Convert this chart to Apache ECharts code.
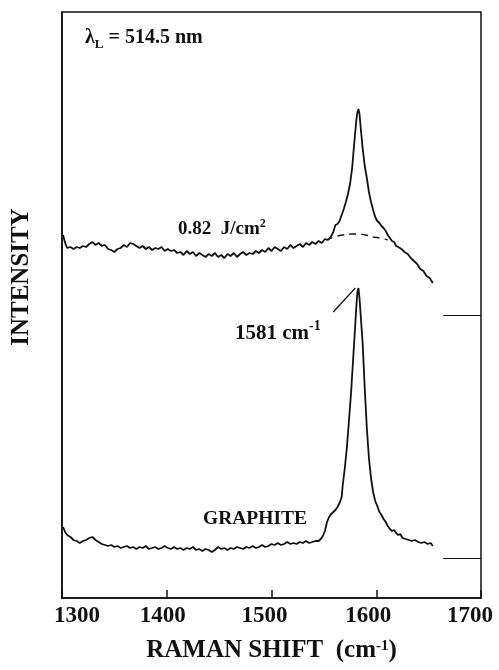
<!DOCTYPE html>
<html>
<head>
<meta charset="utf-8">
<script src="https://cdn.jsdelivr.net/npm/echarts@6/dist/echarts.min.js"></script>
<style>html,body{margin:0;padding:0;background:#fff;}#c{width:499px;height:670px;}</style>
</head>
<body>
<div id="c"></div>
<script>
// ---- data (wavenumber cm-1, intensity in arbitrary units) ----
const xTicks = [1300, 1400, 1500, 1600, 1700];
const xTickLabels = ['1300', '1400', '1500', '1600', '1700'];

const spectrumFluence = [
[1301,363],[1303,355],[1305,350],[1308,351],[1311,349],[1314,351],[1317,350],[1320,352],[1323,351],[1326,354],
[1329,356],[1332,353],[1335,355],[1338,352],[1341,353],[1344,349],[1347,348],[1350,346],[1353,349],[1356,350],
[1359,353],[1362,351],[1365,355],[1368,354],[1371,352],[1374,350],[1377,352],[1380,349],[1383,351],[1386,348],
[1389,350],[1392,349],[1395,351],[1398,347],[1401,349],[1404,347],[1407,348],[1410,345],[1413,346],[1416,343],
[1419,347],[1422,344],[1425,346],[1428,342],[1431,345],[1434,343],[1437,341],[1440,344],[1443,342],[1446,345],
[1449,341],[1452,343],[1455,340],[1458,344],[1461,342],[1464,345],[1467,341],[1470,344],[1473,346],[1476,343],
[1479,345],[1482,344],[1485,347],[1488,345],[1491,348],[1494,346],[1497,350],[1500,347],[1503,351],[1506,349],
[1509,347],[1512,351],[1515,349],[1518,353],[1521,350],[1524,352],[1527,354],[1530,351],[1533,355],[1536,353],
[1539,356],[1542,354],[1545,357],[1548,355],[1551,359],[1554,358],[1557,362],[1559,366],[1561,373],[1563,374],
[1565,377],[1567,383],[1569,389],[1571,396],[1573,404],[1575,414],[1577,430],[1579,455],[1581,478],[1582,486],
[1583,489],[1584,484],[1585,472],[1587,450],[1589,432],[1591,420],[1593,406],[1595,396],[1597,388],[1599,381],
[1601,377],[1603,375],[1605,372],[1607,370],[1609,367],[1611,363],[1613,360],[1615,357],[1617,356],[1619,352],
[1621,351],[1624,349],[1627,346],[1630,344],[1633,340],[1636,337],[1639,334],[1642,329],[1645,327],[1648,322],
[1651,320],[1654,315]
];

const backgroundFluence = [
[1552,358],[1560,361],[1568,363],[1576,364],[1583,364],[1590,363],[1597,361],[1604,360],[1611,358]
];

const spectrumGraphite = [
[1301,71],[1303,66],[1305,63],[1308,61],[1311,58],[1314,57],[1317,55],[1320,57],[1323,58],[1326,60],
[1329,61],[1332,58],[1335,56],[1338,54],[1341,53],[1344,52],[1347,53],[1350,51],[1353,52],[1356,50],
[1359,51],[1362,52],[1365,50],[1368,51],[1371,49],[1374,51],[1377,50],[1380,52],[1383,49],[1386,50],
[1389,51],[1392,49],[1395,50],[1398,52],[1401,50],[1404,49],[1407,51],[1410,49],[1413,50],[1416,48],
[1419,50],[1422,49],[1425,51],[1428,48],[1431,49],[1434,47],[1437,49],[1440,48],[1443,46],[1446,48],
[1449,51],[1452,49],[1455,50],[1458,48],[1461,50],[1464,49],[1467,51],[1470,50],[1473,49],[1476,51],
[1479,50],[1482,52],[1485,50],[1488,51],[1491,53],[1494,51],[1497,52],[1500,54],[1503,53],[1506,55],
[1509,53],[1512,54],[1515,56],[1518,54],[1521,55],[1524,54],[1527,56],[1530,55],[1533,57],[1536,55],
[1539,56],[1542,57],[1545,57],[1547,59],[1549,62],[1551,67],[1553,76],[1555,81],[1557,84],[1559,86],
[1561,88],[1563,91],[1565,95],[1567,101],[1568,113],[1570,130],[1572,151],[1574,178],[1576,206],[1578,240],
[1580,274],[1581,292],[1582,306],[1583,310],[1584,300],[1585,285],[1587,255],[1589,210],[1591,170],[1593,140],
[1595,120],[1597,106],[1599,97],[1601,92],[1603,86],[1605,83],[1607,79],[1609,76],[1611,72],[1613,69],
[1615,67],[1617,68],[1619,65],[1621,63],[1623,64],[1625,60],[1628,59],[1631,58],[1634,57],[1637,58],
[1640,56],[1643,55],[1646,56],[1649,54],[1652,55],[1654,52]
];

const peakLeader = [[1559, 286], [1580, 310]];
const baselineMarks = [283, 40];
const baselineMarkFrom = 1664;

// ---- chart ----
const serif = '"Liberation Serif", "DejaVu Serif", serif';
const ink = '#111';
const labelShift = [15, -4, -7, -8, -11];
const richTicks = {};
labelShift.forEach((s, i) => {
  richTicks['l' + i] = {
    fontFamily: serif, fontWeight: 'bold', fontSize: 23, color: ink,
    padding: s > 0 ? [0, 0, 0, 2 * s] : [0, -2 * s, 0, 0]
  };
});

const chart = echarts.init(document.getElementById('c'), null, {renderer: 'canvas'});
const lineStyle = {color: ink, width: 1.8};

chart.setOption({
  animation: false,
  backgroundColor: '#fff',
  grid: {left: 62, right: 18, top: 12, bottom: 72, show: true, borderColor: ink, borderWidth: 1.5, outerBoundsMode: 'none'},
  xAxis: {
    type: 'value', min: 1300, max: 1700, interval: 100,
    axisLine: {show: true, lineStyle: {color: ink, width: 1.5}},
    axisTick: {show: true, inside: true, length: 8, lineStyle: {color: ink, width: 1.5}},
    splitLine: {show: false},
    axisLabel: {
      show: true, margin: 7, showMinLabel: true, showMaxLabel: true, hideOverlap: false,
      fontFamily: serif, fontWeight: 'bold', fontSize: 23, color: ink,
      formatter: v => { const i = xTicks.indexOf(v); return i < 0 ? '' : '{l' + i + '|' + xTickLabels[i] + '}'; },
      rich: richTicks
    },
    name: '{b|RAMAN SHIFT  (cm}{s|-1}{b|)}',
    nameLocation: 'middle', nameGap: 39,
    nameTextStyle: {
      rich: {
        b: {fontFamily: serif, fontWeight: 'bold', fontSize: 25, color: ink, lineHeight: 26, verticalAlign: 'bottom'},
        s: {fontFamily: serif, fontWeight: 'bold', fontSize: 15, color: ink, lineHeight: 26, verticalAlign: 'top', padding: [2, 0, 0, 0]}
      }
    }
  },
  yAxis: {
    type: 'value', min: 0, max: 586,
    axisLine: {show: true, lineStyle: {color: ink, width: 1.5}},
    axisTick: {show: false}, axisLabel: {show: false}, splitLine: {show: false}
  },
  series: [
    {
      type: 'line', data: spectrumFluence, symbol: 'none', lineStyle: lineStyle, z: 3,
      markLine: {
        silent: true, symbol: 'none', label: {show: false},
        lineStyle: {color: ink, width: 1.2, type: 'solid'},
        data: [
          [{coord: peakLeader[0]}, {coord: peakLeader[1]}]
        ].concat(baselineMarks.map(b => [{coord: [baselineMarkFrom, b]}, {coord: [1700, b]}]))
      }
    },
    {
      type: 'line', data: backgroundFluence, symbol: 'none', smooth: true,
      lineStyle: {color: ink, width: 1.3, type: [7, 5]}, z: 2
    },
    {
      type: 'line', data: spectrumGraphite, symbol: 'none', lineStyle: lineStyle, z: 3
    }
  ],
  graphic: [
    {
      type: 'text', left: 85, top: 28,
      style: {
        text: '{b|λ}{sub|L}{b| = 514.5 nm}',
        rich: {
          b: {fontFamily: serif, fontWeight: 'bold', fontSize: 20, fill: ink, lineHeight: 23, verticalAlign: 'top'},
          sub: {fontFamily: serif, fontWeight: 'bold', fontSize: 13, fill: ink, lineHeight: 23, verticalAlign: 'bottom', padding: [10, 0, 0, 0]}
        }
      }
    },
    {
      type: 'text', left: 178, top: 218,
      style: {
        text: '{b|0.82  J/cm}{s|2}',
        rich: {
          b: {fontFamily: serif, fontWeight: 'bold', fontSize: 19, fill: ink, lineHeight: 21, verticalAlign: 'bottom'},
          s: {fontFamily: serif, fontWeight: 'bold', fontSize: 12, fill: ink, lineHeight: 21, verticalAlign: 'top'}
        }
      }
    },
    {
      type: 'text', left: 235, top: 319,
      style: {
        text: '{b|1581 cm}{s|-1}',
        rich: {
          b: {fontFamily: serif, fontWeight: 'bold', fontSize: 21, fill: ink, lineHeight: 25, verticalAlign: 'bottom'},
          s: {fontFamily: serif, fontWeight: 'bold', fontSize: 14, fill: ink, lineHeight: 25, verticalAlign: 'top'}
        }
      }
    },
    {
      type: 'text', left: 203, top: 509,
      style: {text: 'GRAPHITE', fontFamily: serif, fontWeight: 'bold', fontSize: 19.5, fill: ink}
    },
    {
      type: 'text', x: 22, y: 277, rotation: Math.PI / 2,
      style: {text: 'INTENSITY', fontFamily: serif, fontWeight: 'bold', fontSize: 25, fill: ink, align: 'center', verticalAlign: 'middle'}
    }
  ]
});
</script>
</body>
</html>
